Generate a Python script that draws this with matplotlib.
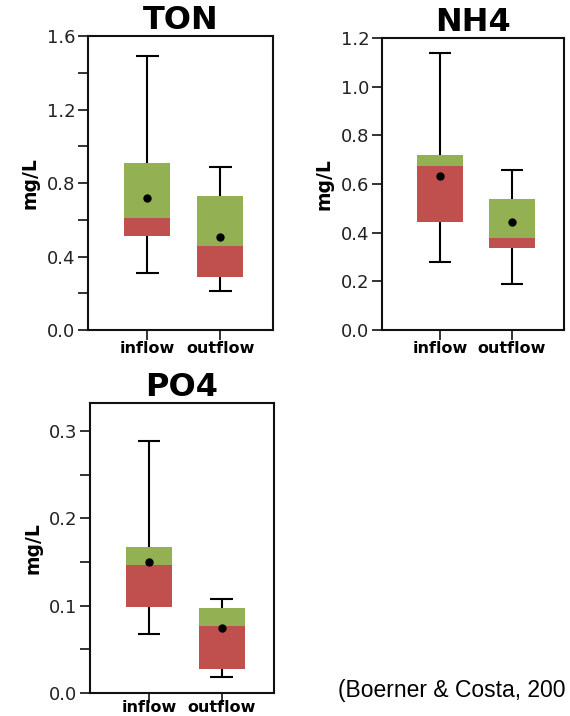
import matplotlib
matplotlib.use("Agg")
import matplotlib.pyplot as plt
from matplotlib.ticker import MultipleLocator

# --- Data ---
GROUPS = ["inflow", "outflow"]

TON_LOW = [0.31, 0.21]
TON_Q1 = [0.51, 0.29]
TON_MED = [0.61, 0.46]
TON_Q3 = [0.91, 0.73]
TON_HIGH = [1.49, 0.89]
TON_MEAN = [0.72, 0.505]

NH4_LOW = [0.28, 0.19]
NH4_Q1 = [0.443, 0.336]
NH4_MED = [0.672, 0.38]
NH4_Q3 = [0.72, 0.539]
NH4_HIGH = [1.14, 0.658]
NH4_MEAN = [0.634, 0.446]

PO4_LOW = [0.0675, 0.018]
PO4_Q1 = [0.098, 0.0275]
PO4_MED = [0.147, 0.077]
PO4_Q3 = [0.167, 0.097]
PO4_HIGH = [0.288, 0.108]
PO4_MEAN = [0.1495, 0.075]

GREEN = "#93B153"
RED = "#C0504D"

fig = plt.figure(figsize=(5.7, 7.16), dpi=100, facecolor="white")


def draw_panel(rect, title, low, q1, med, q3, high, mean, ymax, major, minor, xpad):
    ax = fig.add_axes(rect)
    pos = [1, 2]
    width = 0.63
    # whiskers + caps
    for x, lo, a, b, hi in zip(pos, low, q1, q3, high):
        ax.vlines(x, hi, b, color="black", lw=1.5, zorder=1)
        ax.vlines(x, lo, a, color="black", lw=1.5, zorder=1)
        ax.hlines([hi, lo], x - width / 4, x + width / 4, color="black", lw=1.5, zorder=1)
    # box: red below median, green above
    ax.bar(pos, [m - a for m, a in zip(med, q1)], bottom=q1, width=width,
           color=RED, zorder=2)
    ax.bar(pos, [b - m for b, m in zip(q3, med)], bottom=med, width=width,
           color=GREEN, zorder=2)
    ax.plot(pos, mean, "o", color="black", ms=5, zorder=3)

    ax.set_xlim(0.19, 2.72)
    ax.set_ylim(0, ymax)
    ax.set_xticks(pos)
    ax.yaxis.set_major_locator(MultipleLocator(major))
    ax.yaxis.set_minor_locator(MultipleLocator(minor))
    ax.yaxis.set_major_formatter(plt.FormatStrFormatter("%.1f"))
    ax.tick_params(axis="both", which="both", direction="out", length=7,
                   width=1.3, colors="#222222", labelsize=13)
    ax.tick_params(axis="y", pad=2)
    ax.tick_params(axis="x", pad=xpad)
    ax.set_xticklabels(GROUPS, fontweight="bold", fontsize=11.5, color="black")
    for s in ax.spines.values():
        s.set_linewidth(1.5)
        s.set_color("#111111")
    ax.set_ylabel("mg/L", fontweight="bold", fontsize=13.5, labelpad=5)
    ax.set_title(title, fontweight="bold", fontsize=23, pad=4)
    return ax


draw_panel([0.1544, 0.539, 0.3246, 0.4106], "TON",
           TON_LOW, TON_Q1, TON_MED, TON_Q3, TON_HIGH, TON_MEAN, 1.6, 0.4, 0.2, 1)
draw_panel([0.670, 0.539, 0.319, 0.408], "NH4",
           NH4_LOW, NH4_Q1, NH4_MED, NH4_Q3, NH4_HIGH, NH4_MEAN, 1.2, 0.2, 0.2, 1)
draw_panel([0.158, 0.0321, 0.3228, 0.405], "PO4",
           PO4_LOW, PO4_Q1, PO4_MED, PO4_Q3, PO4_HIGH, PO4_MEAN, 0.332, 0.1, 0.05, -2)

# citation as visible in the reference (cut at the right edge there)
fig.text(338 / 570, 1 - 690 / 716, "(Boerner & Costa, 200", fontsize=16.5,
         family="Liberation Sans", va="center", ha="left")

fig.savefig("out.png", dpi=100, facecolor="white")
